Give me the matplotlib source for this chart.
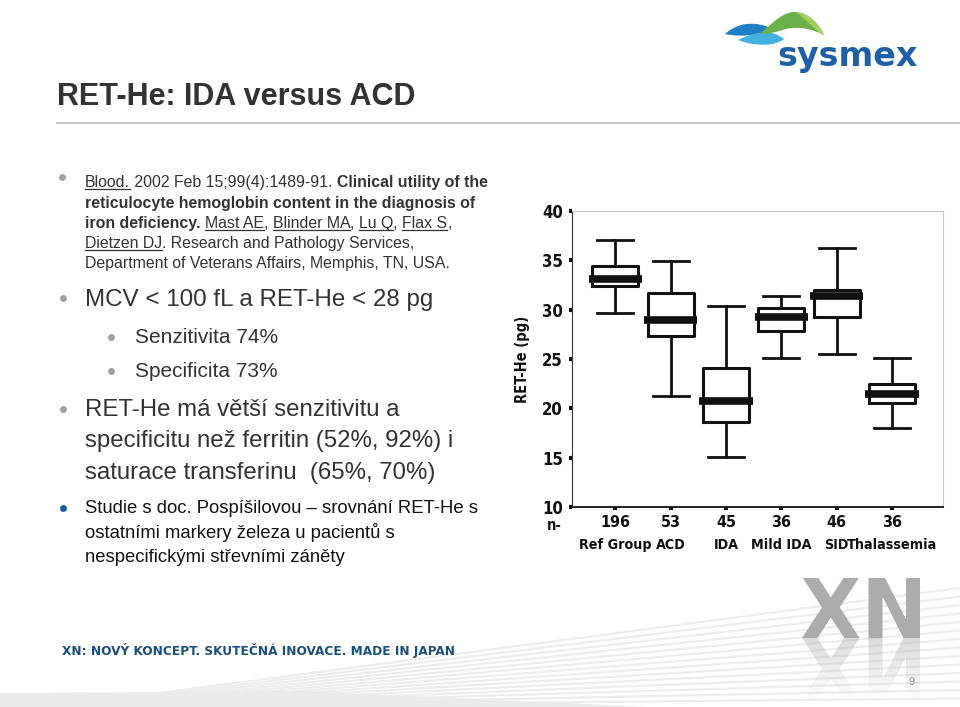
import matplotlib
matplotlib.use("Agg")
import matplotlib.pyplot as plt
import numpy as np
from matplotlib.path import Path
from matplotlib.patches import PathPatch
from matplotlib.textpath import TextPath
from matplotlib.font_manager import FontProperties

# data
groups = ["Ref Group", "ACD", "IDA", "Mild IDA", "SID", "Thalassemia"]
n_vals = [196, 53, 45, 36, 46, 36]
whis_hi = [37.1, 34.9, 30.4, 31.4, 36.2, 25.1]
q3 = [34.4, 31.7, 24.1, 30.2, 32.0, 22.5]
med = [33.1, 29.0, 20.7, 29.3, 31.4, 21.5]
q1 = [32.4, 27.3, 18.6, 27.8, 29.3, 20.5]
whis_lo = [29.7, 21.3, 15.1, 25.1, 25.5, 18.0]
yticks = [10, 15, 20, 25, 30, 35, 40]

SANS = ['Liberation Sans', 'DejaVu Sans']
narrow_fp = FontProperties(family='DejaVu Sans', weight='bold', stretch='condensed')
ink = '#111111'
txt = '#333333'

fig = plt.figure(figsize=(9.6, 7.07), dpi=100)
bg = fig.add_axes([0, 0, 1, 1])
bg.set_xlim(0, 960)
bg.set_ylim(707, 0)
bg.axis('off')
renderer = fig.canvas.get_renderer()


def seg_width(s, size, weight):
    t = bg.text(0, 0, s + '|', fontsize=size, fontweight=weight, family=SANS)
    w1 = t.get_window_extent(renderer).width
    t.set_text('|')
    w2 = t.get_window_extent(renderer).width
    t.remove()
    return w1 - w2


def rich_line(x, y, segs, size, color):
    for s, weight, ul in segs:
        bg.text(x, y, s, fontsize=size, fontweight=weight, color=color,
                family=SANS, va='baseline')
        w = seg_width(s, size, weight)
        if ul:
            bg.plot([x, x + w], [y + 2, y + 2], color=color, lw=0.9)
        x += w


def bullet(x, y, color='#a0a0a0', ms=5):
    bg.plot([x], [y], 'o', ms=ms, color=color, mec='none')


def narrow(size):
    fp = narrow_fp.copy()
    fp.set_size(size)
    return fp


# background streaks
for i in range(14):
    bg.plot([60 + i * 8, 960], [706, 588 + i * 8.5], color='#ededed', lw=1.6, zorder=0)
bg.fill([0, 0, 300, 650], [707, 693, 691, 707], color='#ebebeb', zorder=0, lw=0)

# title
bg.text(57, 105, "RET-He: IDA versus ACD", fontsize=22, fontweight='bold',
        color=txt, family=SANS, va='baseline')
bg.plot([57, 960], [123, 123], color='#c8c8c8', lw=1.5)

# reference bullet
bullet(62, 177)
N, B, U = 'normal', 'bold', True
fs = 11.4
rich_line(85, 187, [("Blood.", N, U), (" 2002 Feb 15;99(4):1489-91. ", N, False),
                    ("Clinical utility of the", B, False)], fs, txt)
rich_line(85, 208, [("reticulocyte hemoglobin content in the diagnosis of", B, False)], fs, txt)
rich_line(85, 228, [("iron deficiency.", B, False), (" ", N, False), ("Mast AE", N, U),
                    (", ", N, False), ("Blinder MA", N, U), (", ", N, False),
                    ("Lu Q", N, U), (", ", N, False), ("Flax S", N, U), (",", N, False)], fs, txt)
rich_line(85, 248, [("Dietzen DJ", N, U), (". Research and Pathology Services,", N, False)], fs, txt)
rich_line(85, 268, [("Department of Veterans Affairs, Memphis, TN, USA.", N, False)], fs, txt)

# main bullets
bullet(63, 298)
bg.text(85, 306, "MCV < 100 fL a RET-He < 28 pg", fontsize=17.4, color=txt, family=SANS, va='baseline')
bullet(111, 337)
bg.text(135, 343, "Senzitivita 74%", fontsize=15, color=txt, family=SANS, va='baseline')
bullet(111, 371)
bg.text(135, 377, "Specificita 73%", fontsize=15, color=txt, family=SANS, va='baseline')
bullet(63, 409)
for yb, s in zip([416, 447, 479], ["RET-He má větší senzitivitu a",
                                   "specificitu než ferritin (52%, 92%) i",
                                   "saturace transferinu  (65%, 70%)"]):
    bg.text(85, yb, s, fontsize=17.3, color=txt, family=SANS, va='baseline')
bullet(63, 508, color='#1a5a9a')
for yb, s in zip([513, 538, 562], ["Studie s doc. Pospíšilovou – srovnání RET-He s",
                                   "ostatními markery železa u pacientů s",
                                   "nespecifickými střevními záněty"]):
    bg.text(85, yb, s, fontsize=13.35, color=ink, family=SANS, va='baseline')

# footer
bg.text(62, 650, "XN: NOVÝ KONCEPT. SKUTEČNÁ INOVACE. MADE IN JAPAN",
        fontproperties=narrow(9.7), color='#1b4f80', va='center')
bg.text(912, 682, "9", fontsize=8, color='#999999', family=SANS, va='center', ha='center')

# big XN with reflection
tp = TextPath((0, 0), "XN", size=100, prop=narrow_fp)
ext = tp.get_extents()
sx, sy = 118 / ext.width, 60 / ext.height
top_tr = matplotlib.transforms.Affine2D().translate(-ext.x0, -ext.y0).scale(sx, -sy).translate(802, 638)
bot_tr = matplotlib.transforms.Affine2D().translate(-ext.x0, -ext.y0).scale(sx, sy).translate(802, 638)
bg.add_patch(PathPatch(top_tr.transform_path(tp), color='#acacac', lw=0, zorder=1))
refl = PathPatch(bot_tr.transform_path(tp), facecolor='none', lw=0)
bg.add_patch(refl)
grad = np.zeros((60, 2, 4))
grad[..., :3] = 0.74
grad[..., 3] = np.linspace(0.55, 0.0, 60)[:, None]
im = bg.imshow(grad, extent=[800, 922, 700, 638], aspect='auto', zorder=1)
im.set_clip_path(refl)

# sysmex logo
C = Path.CURVE4


def blob(pts, color):
    codes = [Path.MOVETO] + [C] * (len(pts) - 1)
    bg.add_patch(PathPatch(Path(pts, codes), color=color, lw=0, zorder=3))


blob([(725, 34), (737, 23), (754, 20), (773, 29), (761, 34), (745, 38), (725, 34)], '#1f7fc4')
blob([(738, 40), (756, 31), (772, 29), (784, 39), (776, 46), (755, 47), (738, 40)], '#45b0e2')
blob([(760, 34), (774, 21), (785, 11), (796, 12), (809, 13), (819, 24), (824, 35),
      (812, 29), (799, 26), (786, 29), (777, 32), (768, 34), (760, 34)], '#6cb04a')
blob([(796, 12), (809, 13), (819, 24), (824, 35), (814, 30), (807, 20), (796, 12)], '#a3cf5e')
bg.text(777, 66, "sysmex", fontsize=24, fontweight='bold', color='#1f5fa6',
        family='DejaVu Sans', va='baseline')

bg.set_xlim(0, 960)
bg.set_ylim(707, 0)

# box plot
ax = fig.add_axes([572 / 960, 1 - 507 / 707, 371 / 960, 296 / 707])
pos = np.arange(1, len(groups) + 1)
stats = [dict(med=m, q1=a, q3=b, whislo=lo, whishi=hi, fliers=[])
         for m, a, b, lo, hi in zip(med, q1, q3, whis_lo, whis_hi)]
ax.bxp(stats, positions=pos, widths=0.83, capwidths=0.65, showfliers=False,
       boxprops=dict(lw=2.2, color=ink), whiskerprops=dict(lw=2, color=ink),
       capprops=dict(lw=2, color=ink), medianprops=dict(linestyle='none'),
       manage_ticks=False)
ax.hlines(med, pos - 0.48, pos + 0.48, lw=5.5, color=ink, zorder=3)

ax.set_xlim(0.22, 6.92)
ax.set_ylim(10, 40)
ax.set_yticks(yticks)
ax.set_xticks(pos)
ax.set_xticklabels([str(n) for n in n_vals])
for lab in ax.get_xticklabels():
    lab.set_fontproperties(narrow(11.5))
    lab.set_color(ink)
for lab in ax.get_yticklabels():
    lab.set_fontproperties(narrow(12))
    lab.set_color(ink)
for p, g in zip(pos, groups):
    ax.text(p, -0.128, g, transform=ax.get_xaxis_transform(), fontproperties=narrow(10.3),
            color=ink, ha='center', va='center')
ax.tick_params(axis='y', length=2.5, width=3, pad=4, color=ink)
ax.tick_params(axis='x', length=2.5, width=3, pad=3, color=ink)
ax.set_ylabel("RET-He (pg)", fontproperties=narrow(10.5), color=ink)
ax.yaxis.set_label_coords(-0.113, 0.5)
ax.spines['left'].set_color('#333333')
ax.spines['bottom'].set_color('#222222')
ax.spines['bottom'].set_linewidth(1.4)
ax.spines['top'].set_color('#c8c8c8')
ax.spines['right'].set_color('#c8c8c8')
ax.text(-0.048, -0.063, "n-", transform=ax.transAxes, fontproperties=narrow(10.5),
        color=ink, ha='center', va='center')

fig.savefig("out.png", dpi=100)
